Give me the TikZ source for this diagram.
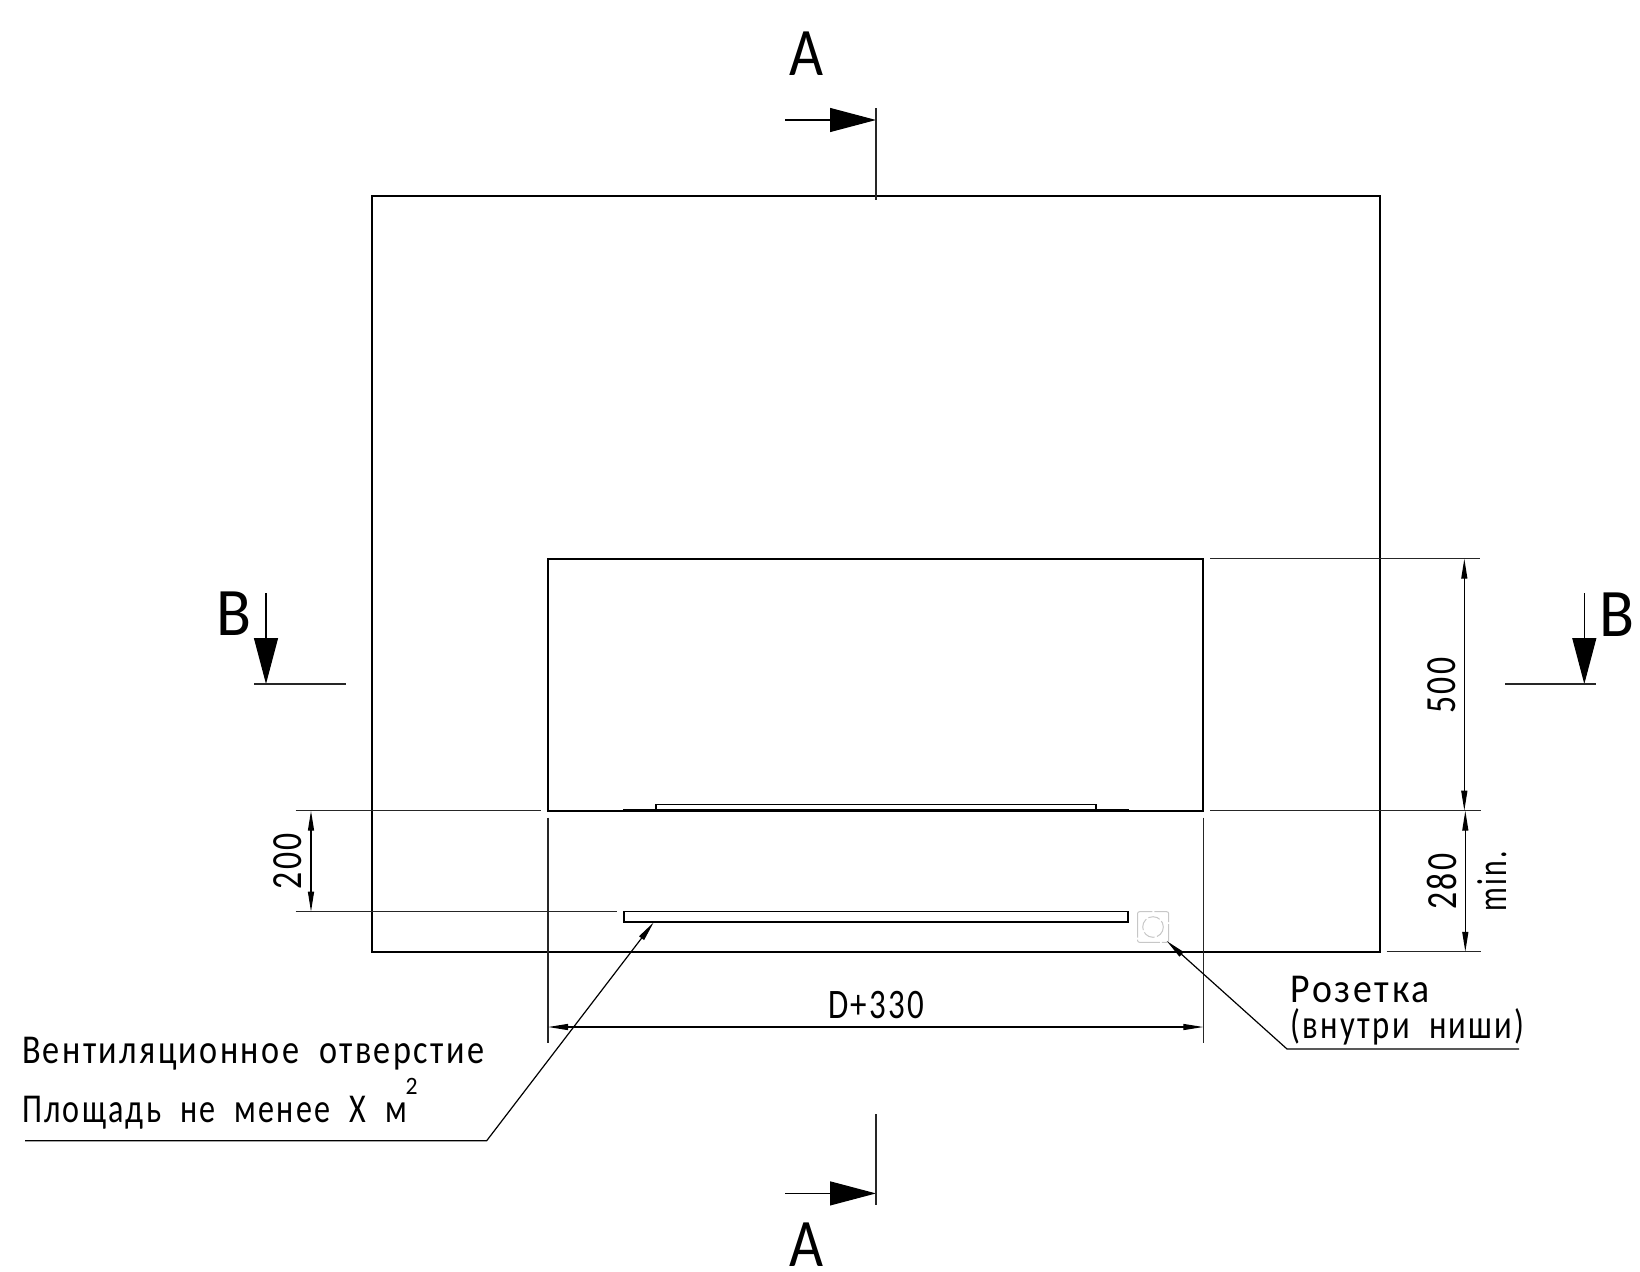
\documentclass[tikz,border=0pt]{standalone}
\usepackage{fontspec}
\usepackage{graphicx}
\setmainfont{Carlito}
\newfontfamily\spaced[LetterSpace=7,WordSpace=2]{Carlito}
\usetikzlibrary{arrows.meta}
\newsavebox\mybox
\newcommand\fitw[2]{\sbox\mybox{#2}\pgfmathsetmacro\myr{#1/\the\wd\mybox}\scalebox{\myr}[1]{\usebox\mybox}}
\newcommand\fs[1]{\fontsize{#1}{#1}\selectfont}
\tikzset{
  thick line/.style={line width=1.9pt,black},
  thin line/.style={line width=1.3pt,black!85},
  dimline/.style={line width=1.2pt,black,{Triangle[length=20pt,width=6pt]}-{Triangle[length=20pt,width=6pt]}},
  leader/.style={line width=1.2pt,black,{Triangle[length=20pt,width=6pt]}-},
  section/.style={line width=1.2pt,black,-{Triangle[length=46pt,width=24pt]}},
  lbl/.style={inner sep=0pt,outer sep=0pt,anchor=base west},
  rot/.style={inner sep=0pt,outer sep=0pt,anchor=base,rotate=90},
  cen/.style={inner sep=0pt,outer sep=0pt,anchor=base},
}
\begin{document}
\begin{tikzpicture}[x=1pt,y=-1pt]
\useasboundingbox (0,0) rectangle (1640,1271);
% main shapes
\draw[thick line] (371.8,195.7) rectangle (1379.7,951.8);
\draw[thick line] (548,558.7) rectangle (1203.3,810.7);
\draw[line width=1.4pt] (655.8,804.3) rectangle (1096,810);
\fill (623.4,808.8) rectangle (1128.5,811);
\draw[line width=1.7pt,fill=white] (624,911.5) rectangle (1128.2,921.8);
% socket
\draw[line width=1pt,black!22,rounded corners=2pt,dash pattern=on 24pt off 2pt] (1137.5,911.7) rectangle (1168.7,942.3);
\draw[line width=1pt,black!22,dash pattern=on 12pt off 2.5pt] (1153,927) circle (10.3);
% extension lines
\draw[thin line] (295.7,810.7) -- (541,810.7);
\draw[thin line] (295.7,911.7) -- (616.7,911.7);
\draw[thin line] (548,817.7) -- (548,1042.5);
\draw[thin line] (1203.3,817.7) -- (1203.3,1042.5);
\draw[thin line] (1210,558.7) -- (1480,558.7);
\draw[thin line] (1210,810.7) -- (1481,810.7);
\draw[thin line] (1386.7,951.8) -- (1481,951.8);
% dimension ends
\coordinate (d1a) at (548,1027);
\coordinate (d1b) at (1203.3,1027);
\coordinate (d2a) at (1464.3,558.7);
\coordinate (d2b) at (1464.3,810.7);
\coordinate (d3a) at (1465.3,810.7);
\coordinate (d3b) at (1465.3,951.8);
\coordinate (d4a) at (311,810.7);
\coordinate (d4b) at (311,911.7);
\draw[dimline] (d1a) -- (d1b);
\draw[dimline] (d2a) -- (d2b);
\draw[dimline] (d3a) -- (d3b);
\draw[dimline] (d4a) -- (d4b);
\node[lbl] (tD) at (828,1018) {\fs{42}\fitw{96}{\spaced D+330}};
\node[rot] (t500) at (1455,685.7) {\fs{43}\fitw{56}{\spaced 500}};
\node[rot] (t280) at (1456,881.7) {\fs{43}\fitw{56}{\spaced 280}};
\node[rot] (t200) at (301.7,861) {\fs{43}\fitw{56}{\spaced 200}};
\node[rot] (tmin) at (1506,881) {\fs{42}\fitw{60}{\spaced min.}};
% leaders
\coordinate (l1tip) at (653.7,922.3);
\coordinate (l1knee) at (486.7,1140.7);
\coordinate (l1end) at (25,1140.7);
\draw[leader] (l1tip) -- (l1knee) -- (l1end);
\coordinate (l2tip) at (1166.7,941);
\coordinate (l2knee) at (1287,1049);
\coordinate (l2end) at (1519,1049);
\draw[leader] (l2tip) -- (l2knee) -- (l2end);
\node[lbl] (t1) at (22,1063.5) {\fs{41}\fitw{462}{\spaced Вентиляционное отверстие}};
\node[lbl] (t2) at (22,1122) {\fs{41}\fitw{385}{\spaced Площадь не менее Х м}};
\node[lbl] (t3) at (405.5,1094) {\fs{25}\fitw{12}{2}};
\node[lbl] (t4) at (1290.7,1002) {\fs{41}\fitw{139}{\spaced Розетка}};
\node[lbl] (t5) at (1290.7,1038) {\fs{41}\fitw{234}{\spaced (внутри ниши)}};
% section A top
\coordinate (a1) at (785,120);
\coordinate (a2) at (876,120);
\draw[section] (a1) -- (a2);
\draw[thin line] (876,108.3) -- (876,200);
\node[lbl] (ta) at (789,76) {\fs{68}\fitw{34}{A}};
% section A bottom
\coordinate (a3) at (785,1193.4);
\coordinate (a4) at (876,1193.4);
\draw[section] (a3) -- (a4);
\draw[thin line] (876,1114) -- (876,1205);
\node[lbl] (tb) at (789,1266) {\fs{68}\fitw{34}{A}};
% section B left
\coordinate (b1) at (266,593);
\coordinate (b2) at (266,684);
\draw[section] (b1) -- (b2);
\draw[thin line] (254,684) -- (346,684);
\node[lbl] (tc) at (216,635.7) {\fs{68}\fitw{35}{B}};
% section B right
\coordinate (b3) at (1584.3,593);
\coordinate (b4) at (1584.3,684);
\draw[section] (b3) -- (b4);
\draw[thin line] (1505,684) -- (1596,684);
\node[lbl] (td) at (1599,636) {\fs{68}\fitw{35}{B}};
\end{tikzpicture}
\end{document}
